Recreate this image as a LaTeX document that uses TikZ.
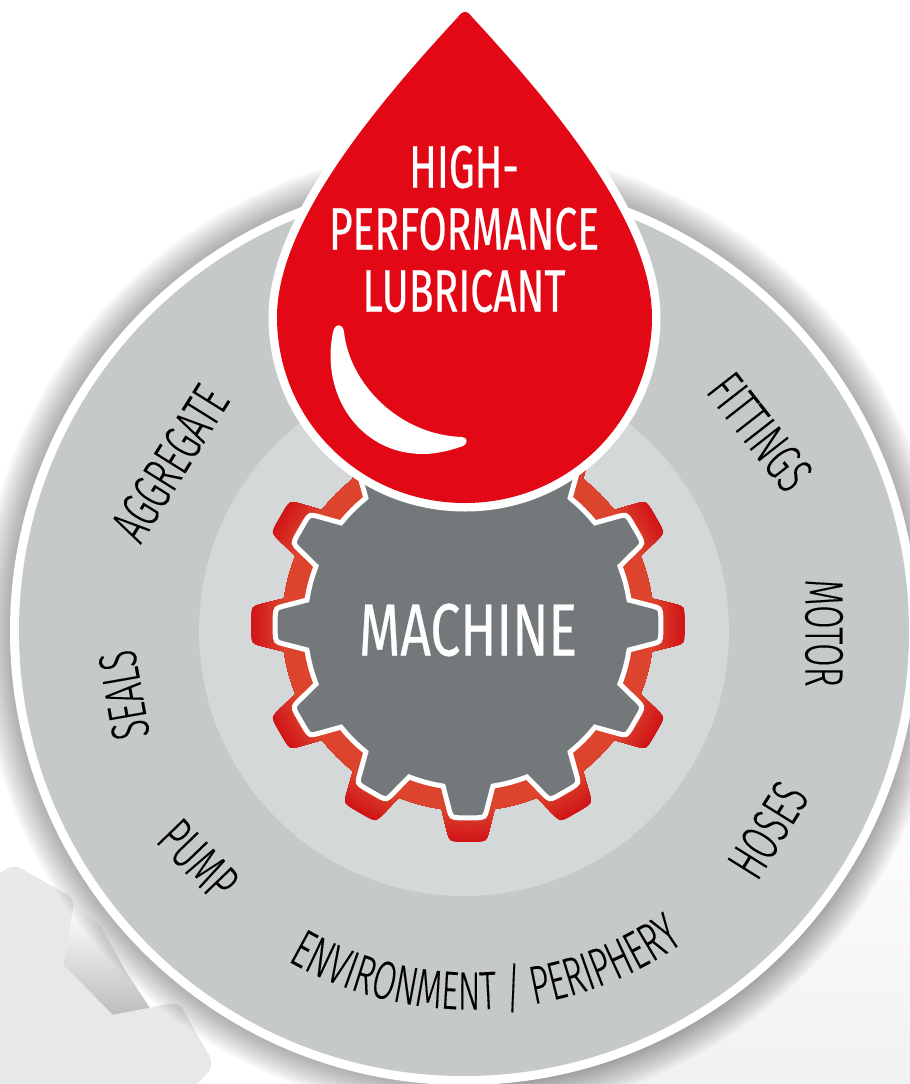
\documentclass[tikz,border=0pt]{standalone}
\usepackage{fontspec}
\usetikzlibrary{decorations.text}
\newfontfamily\dropfamily[FakeStretch=0.68,FakeBold=0.4]{Fira Sans}
\newfontfamily\gearfamily[FakeStretch=0.72,FakeBold=0.4]{Fira Sans}
\newfontfamily\ringfamily[FakeStretch=0.63,FakeBold=0.2]{Fira Sans Light}
\newcommand{\ringfont}{\ringfamily\fontsize{54}{54}\selectfont}
\definecolor{ringgray}{HTML}{C6C9CA}
\definecolor{innergray}{HTML}{D5D8D9}
\definecolor{geargray}{HTML}{73797A}
\definecolor{dropred}{HTML}{E30815}
\definecolor{gearlight}{HTML}{DC442E}
\definecolor{geardark}{HTML}{D01417}
\definecolor{ghostgray}{HTML}{E6E8E9}
\definecolor{floorgray}{HTML}{F0F1F2}
% root radius, tip radius, root half angle, tip half angle
\newcommand{\gearpath}[4]{
  (#3:#1) \foreach \a in {0,30,...,330}{
    -- ({\a+#3+(15-#3)*0.5}:#1) -- ({\a+15}:#1) -- ({\a+30-#3-(15-#3)*0.5}:#1) -- ({\a+30-#3}:#1)
    -- ({\a+30-#4-0.9}:{#2-8}) .. controls ({\a+30-#4}:#2) .. ({\a+30-#4+2.4}:#2)
    -- ({\a+30+#4-2.4}:#2) .. controls ({\a+30+#4}:#2) .. ({\a+30+#4+0.9}:{#2-8})
    -- ({\a+30+#3}:#1)
  } -- cycle
}
\begin{document}
\begin{tikzpicture}[
    x=1pt, y=-1pt,
    ringlabel/.style={font=\ringfont, text=black, inner sep=0pt},
    droplabel/.style={font=\dropfamily\fontsize{60}{62}\selectfont, text=white, align=center, inner sep=0pt}
]
\useasboundingbox (0,0) rectangle (910,1084);

% Floor and ghost gear behind the disc
\shade[top color=white, bottom color=floorgray] (430,780) rectangle (910,1084);
\shade[shading angle=-45, top color=white, bottom color=black!26] (73,905) -- (63,965) -- (113,1015) -- (150,1008) -- (125,970) -- (100,925) -- cycle;
\fill[ghostgray] (0,873) -- (8,868) .. controls (13,866) and (17,866) .. (22,869) -- (68,895) .. controls (73,898) and (74,904) .. (73,910) -- (63,965)
  -- (113,1015) -- (168,1004) .. controls (174,1003) and (179,1004) .. (182,1008) -- (209,1055) .. controls (212,1060) and (212,1066) .. (209,1071) -- (197,1084) -- (0,1084) -- cycle;

% Shadow round the disc
\foreach \r in {456,458,...,484}
  \fill[black, opacity=0.022] (464,631) circle (\r pt);

% Discs
\fill[white] (464,631) circle (454pt);
\fill[ringgray] (464,631) circle (445pt);
\fill[innergray] (464,631) circle (265pt);

% Gear
\begin{scope}[shift={(468,625)}]
  \begin{scope}
    \clip \gearpath{186}{217}{8.2}{4.8};
    \foreach \r [evaluate=\r as \p using (\r-186)/31*100] in {218,217,...,186}
      \fill[geardark!\p!gearlight] (0,0) circle (\r pt);
  \end{scope}
  \path[fill=geargray, draw=white, line width=5pt, line join=miter] \gearpath{163}{193}{8.8}{5};
\end{scope}

% Drop
\path[fill=dropred, preaction={draw=white, line width=17pt, line join=round}]
  (458,17) .. controls (463,10) and (467,10) .. (472,17)
  .. controls (558,110) and (652,225) .. (652,317)
  .. controls (652,420) and (569,503) .. (465,503)
  .. controls (360,503) and (277,420) .. (277,317)
  .. controls (277,225) and (372,110) .. (458,17) -- cycle;
\fill[white] (333,332) .. controls (320,395) and (360,454) .. (423,454)
  .. controls (437,454) and (452,450) .. (463,446)
  .. controls (468,444) and (468,437) .. (462,437)
  .. controls (400,435) and (350,385) .. (344,332)
  .. controls (343,323) and (335,323) .. (333,332) -- cycle;

% Labels
\node[droplabel] (lubricant) at (464,229) {HIGH-\\PERFORMANCE\\LUBRICANT};
\node[font=\gearfamily\fontsize{74}{74}\selectfont, text=white, inner sep=0pt] (machine) at (468,630) {MACHINE};

\node[ringlabel, rotate=58] (aggregate) at (170,463) {AGGREGATE};
\node[ringlabel, rotate=-52] (fittings) at (760,432) {FITTINGS};
\node[ringlabel, rotate=-90] (motor) at (824,633) {MOTOR};
\node[ringlabel, rotate=58] (hoses) at (768,830) {HOSES};
\node[ringlabel, rotate=100] (seals) at (124,695) {SEALS};
\node[ringlabel, rotate=-46] (pump) at (198,860) {PUMP};

\path[decorate, decoration={text along path, text align=center, text={|\ringfont|ENVIRONMENT / PERIPHERY}}]
  (295,965) arc[start angle=241.6, end angle=303.8, radius=370pt];
\end{tikzpicture}
\end{document}
